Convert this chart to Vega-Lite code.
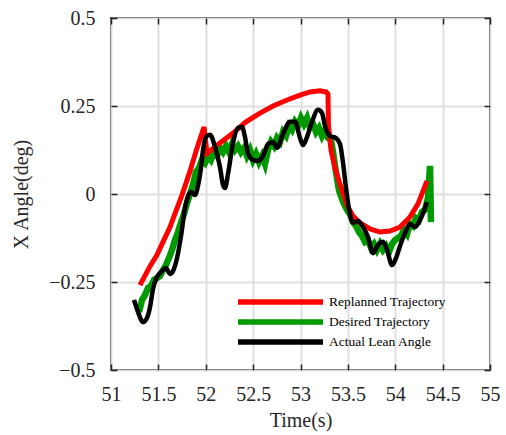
{
  "$schema": "https://vega.github.io/schema/vega-lite/v6.json",
  "width": 379,
  "height": 352,
  "autosize": {"type": "none"},
  "padding": {"left": 111, "top": 18, "right": 16, "bottom": 65},
  "config": {
    "font": "Liberation Serif",
    "view": {"stroke": "#262626", "strokeWidth": 2},
    "axis": {
      "labelFont": "Liberation Serif",
      "labelFontSize": 20,
      "labelColor": "#262626",
      "titleFont": "Liberation Serif",
      "titleFontSize": 20,
      "titleFontWeight": "normal",
      "titleColor": "#262626",
      "domain": false,
      "tickColor": "#262626",
      "tickWidth": 1.5,
      "tickSize": -6,
      "labelFlush": false,
      "labelOverlap": false
    }
  },
  "data": {"values": [
    {"series": "Desired Trajectory", "t": 51.296, "v": -0.335},
    {"series": "Desired Trajectory", "t": 51.327, "v": -0.301},
    {"series": "Desired Trajectory", "t": 51.359, "v": -0.287},
    {"series": "Desired Trajectory", "t": 51.391, "v": -0.267},
    {"series": "Desired Trajectory", "t": 51.422, "v": -0.261},
    {"series": "Desired Trajectory", "t": 51.454, "v": -0.244},
    {"series": "Desired Trajectory", "t": 51.485, "v": -0.239},
    {"series": "Desired Trajectory", "t": 51.517, "v": -0.233},
    {"series": "Desired Trajectory", "t": 51.549, "v": -0.216},
    {"series": "Desired Trajectory", "t": 51.580, "v": -0.202},
    {"series": "Desired Trajectory", "t": 51.612, "v": -0.182},
    {"series": "Desired Trajectory", "t": 51.644, "v": -0.159},
    {"series": "Desired Trajectory", "t": 51.675, "v": -0.131},
    {"series": "Desired Trajectory", "t": 51.707, "v": -0.108},
    {"series": "Desired Trajectory", "t": 51.739, "v": -0.080},
    {"series": "Desired Trajectory", "t": 51.770, "v": -0.057},
    {"series": "Desired Trajectory", "t": 51.802, "v": -0.026},
    {"series": "Desired Trajectory", "t": 51.834, "v": 0.000},
    {"series": "Desired Trajectory", "t": 51.865, "v": 0.026},
    {"series": "Desired Trajectory", "t": 51.897, "v": 0.063},
    {"series": "Desired Trajectory", "t": 51.929, "v": 0.074},
    {"series": "Desired Trajectory", "t": 51.960, "v": 0.097},
    {"series": "Desired Trajectory", "t": 51.992, "v": 0.088},
    {"series": "Desired Trajectory", "t": 52.024, "v": 0.108},
    {"series": "Desired Trajectory", "t": 52.055, "v": 0.097},
    {"series": "Desired Trajectory", "t": 52.087, "v": 0.119},
    {"series": "Desired Trajectory", "t": 52.119, "v": 0.108},
    {"series": "Desired Trajectory", "t": 52.150, "v": 0.131},
    {"series": "Desired Trajectory", "t": 52.182, "v": 0.119},
    {"series": "Desired Trajectory", "t": 52.214, "v": 0.136},
    {"series": "Desired Trajectory", "t": 52.245, "v": 0.119},
    {"series": "Desired Trajectory", "t": 52.277, "v": 0.142},
    {"series": "Desired Trajectory", "t": 52.309, "v": 0.125},
    {"series": "Desired Trajectory", "t": 52.340, "v": 0.136},
    {"series": "Desired Trajectory", "t": 52.372, "v": 0.119},
    {"series": "Desired Trajectory", "t": 52.404, "v": 0.131},
    {"series": "Desired Trajectory", "t": 52.435, "v": 0.108},
    {"series": "Desired Trajectory", "t": 52.467, "v": 0.125},
    {"series": "Desired Trajectory", "t": 52.499, "v": 0.097},
    {"series": "Desired Trajectory", "t": 52.530, "v": 0.114},
    {"series": "Desired Trajectory", "t": 52.562, "v": 0.091},
    {"series": "Desired Trajectory", "t": 52.594, "v": 0.108},
    {"series": "Desired Trajectory", "t": 52.625, "v": 0.085},
    {"series": "Desired Trajectory", "t": 52.657, "v": 0.125},
    {"series": "Desired Trajectory", "t": 52.689, "v": 0.148},
    {"series": "Desired Trajectory", "t": 52.720, "v": 0.136},
    {"series": "Desired Trajectory", "t": 52.752, "v": 0.159},
    {"series": "Desired Trajectory", "t": 52.784, "v": 0.148},
    {"series": "Desired Trajectory", "t": 52.815, "v": 0.176},
    {"series": "Desired Trajectory", "t": 52.847, "v": 0.165},
    {"series": "Desired Trajectory", "t": 52.879, "v": 0.193},
    {"series": "Desired Trajectory", "t": 52.910, "v": 0.182},
    {"series": "Desired Trajectory", "t": 52.942, "v": 0.205},
    {"series": "Desired Trajectory", "t": 52.974, "v": 0.193},
    {"series": "Desired Trajectory", "t": 53.005, "v": 0.216},
    {"series": "Desired Trajectory", "t": 53.037, "v": 0.199},
    {"series": "Desired Trajectory", "t": 53.069, "v": 0.216},
    {"series": "Desired Trajectory", "t": 53.100, "v": 0.188},
    {"series": "Desired Trajectory", "t": 53.132, "v": 0.199},
    {"series": "Desired Trajectory", "t": 53.164, "v": 0.176},
    {"series": "Desired Trajectory", "t": 53.195, "v": 0.188},
    {"series": "Desired Trajectory", "t": 53.227, "v": 0.165},
    {"series": "Desired Trajectory", "t": 53.259, "v": 0.182},
    {"series": "Desired Trajectory", "t": 53.290, "v": 0.159},
    {"series": "Desired Trajectory", "t": 53.322, "v": 0.153},
    {"series": "Desired Trajectory", "t": 53.343, "v": 0.119},
    {"series": "Desired Trajectory", "t": 53.364, "v": 0.080},
    {"series": "Desired Trajectory", "t": 53.385, "v": 0.045},
    {"series": "Desired Trajectory", "t": 53.406, "v": 0.011},
    {"series": "Desired Trajectory", "t": 53.427, "v": -0.006},
    {"series": "Desired Trajectory", "t": 53.459, "v": -0.028},
    {"series": "Desired Trajectory", "t": 53.491, "v": -0.045},
    {"series": "Desired Trajectory", "t": 53.522, "v": -0.057},
    {"series": "Desired Trajectory", "t": 53.554, "v": -0.080},
    {"series": "Desired Trajectory", "t": 53.586, "v": -0.091},
    {"series": "Desired Trajectory", "t": 53.617, "v": -0.108},
    {"series": "Desired Trajectory", "t": 53.649, "v": -0.119},
    {"series": "Desired Trajectory", "t": 53.681, "v": -0.136},
    {"series": "Desired Trajectory", "t": 53.712, "v": -0.131},
    {"series": "Desired Trajectory", "t": 53.744, "v": -0.153},
    {"series": "Desired Trajectory", "t": 53.776, "v": -0.142},
    {"series": "Desired Trajectory", "t": 53.807, "v": -0.159},
    {"series": "Desired Trajectory", "t": 53.839, "v": -0.142},
    {"series": "Desired Trajectory", "t": 53.871, "v": -0.159},
    {"series": "Desired Trajectory", "t": 53.902, "v": -0.148},
    {"series": "Desired Trajectory", "t": 53.934, "v": -0.165},
    {"series": "Desired Trajectory", "t": 53.966, "v": -0.142},
    {"series": "Desired Trajectory", "t": 53.997, "v": -0.131},
    {"series": "Desired Trajectory", "t": 54.029, "v": -0.125},
    {"series": "Desired Trajectory", "t": 54.061, "v": -0.119},
    {"series": "Desired Trajectory", "t": 54.092, "v": -0.102},
    {"series": "Desired Trajectory", "t": 54.124, "v": -0.114},
    {"series": "Desired Trajectory", "t": 54.156, "v": -0.085},
    {"series": "Desired Trajectory", "t": 54.187, "v": -0.091},
    {"series": "Desired Trajectory", "t": 54.219, "v": -0.068},
    {"series": "Desired Trajectory", "t": 54.251, "v": -0.074},
    {"series": "Desired Trajectory", "t": 54.282, "v": -0.051},
    {"series": "Desired Trajectory", "t": 54.314, "v": -0.045},
    {"series": "Desired Trajectory", "t": 54.346, "v": -0.011},
    {"series": "Desired Trajectory", "t": 54.367, "v": 0.080},
    {"series": "Desired Trajectory", "t": 54.377, "v": -0.080},
    {"series": "Replanned Trajectory", "t": 51.306, "v": -0.259},
    {"series": "Replanned Trajectory", "t": 51.412, "v": -0.205},
    {"series": "Replanned Trajectory", "t": 51.486, "v": -0.173},
    {"series": "Replanned Trajectory", "t": 51.549, "v": -0.136},
    {"series": "Replanned Trajectory", "t": 51.623, "v": -0.094},
    {"series": "Replanned Trajectory", "t": 51.686, "v": -0.048},
    {"series": "Replanned Trajectory", "t": 51.749, "v": -0.003},
    {"series": "Replanned Trajectory", "t": 51.834, "v": 0.065},
    {"series": "Replanned Trajectory", "t": 51.908, "v": 0.131},
    {"series": "Replanned Trajectory", "t": 51.982, "v": 0.190},
    {"series": "Replanned Trajectory", "t": 52.013, "v": 0.116},
    {"series": "Replanned Trajectory", "t": 52.150, "v": 0.145},
    {"series": "Replanned Trajectory", "t": 52.288, "v": 0.173},
    {"series": "Replanned Trajectory", "t": 52.425, "v": 0.205},
    {"series": "Replanned Trajectory", "t": 52.573, "v": 0.230},
    {"series": "Replanned Trajectory", "t": 52.710, "v": 0.250},
    {"series": "Replanned Trajectory", "t": 52.858, "v": 0.267},
    {"series": "Replanned Trajectory", "t": 52.995, "v": 0.281},
    {"series": "Replanned Trajectory", "t": 53.100, "v": 0.290},
    {"series": "Replanned Trajectory", "t": 53.206, "v": 0.293},
    {"series": "Replanned Trajectory", "t": 53.269, "v": 0.290},
    {"series": "Replanned Trajectory", "t": 53.290, "v": 0.284},
    {"series": "Replanned Trajectory", "t": 53.295, "v": 0.196},
    {"series": "Replanned Trajectory", "t": 53.322, "v": 0.125},
    {"series": "Replanned Trajectory", "t": 53.364, "v": 0.074},
    {"series": "Replanned Trajectory", "t": 53.417, "v": 0.028},
    {"series": "Replanned Trajectory", "t": 53.491, "v": -0.031},
    {"series": "Replanned Trajectory", "t": 53.554, "v": -0.063},
    {"series": "Replanned Trajectory", "t": 53.628, "v": -0.082},
    {"series": "Replanned Trajectory", "t": 53.734, "v": -0.099},
    {"series": "Replanned Trajectory", "t": 53.839, "v": -0.108},
    {"series": "Replanned Trajectory", "t": 53.945, "v": -0.105},
    {"series": "Replanned Trajectory", "t": 54.050, "v": -0.094},
    {"series": "Replanned Trajectory", "t": 54.156, "v": -0.065},
    {"series": "Replanned Trajectory", "t": 54.240, "v": -0.028},
    {"series": "Replanned Trajectory", "t": 54.335, "v": 0.037},
    {"series": "Actual Lean Angle", "t": 51.243, "v": -0.301},
    {"series": "Actual Lean Angle", "t": 51.285, "v": -0.335},
    {"series": "Actual Lean Angle", "t": 51.338, "v": -0.364},
    {"series": "Actual Lean Angle", "t": 51.380, "v": -0.352},
    {"series": "Actual Lean Angle", "t": 51.412, "v": -0.321},
    {"series": "Actual Lean Angle", "t": 51.443, "v": -0.270},
    {"series": "Actual Lean Angle", "t": 51.485, "v": -0.236},
    {"series": "Actual Lean Angle", "t": 51.538, "v": -0.219},
    {"series": "Actual Lean Angle", "t": 51.580, "v": -0.210},
    {"series": "Actual Lean Angle", "t": 51.623, "v": -0.227},
    {"series": "Actual Lean Angle", "t": 51.654, "v": -0.219},
    {"series": "Actual Lean Angle", "t": 51.697, "v": -0.182},
    {"series": "Actual Lean Angle", "t": 51.739, "v": -0.119},
    {"series": "Actual Lean Angle", "t": 51.781, "v": -0.040},
    {"series": "Actual Lean Angle", "t": 51.813, "v": -0.006},
    {"series": "Actual Lean Angle", "t": 51.844, "v": 0.006},
    {"series": "Actual Lean Angle", "t": 51.887, "v": -0.003},
    {"series": "Actual Lean Angle", "t": 51.918, "v": 0.023},
    {"series": "Actual Lean Angle", "t": 51.950, "v": 0.074},
    {"series": "Actual Lean Angle", "t": 51.971, "v": 0.125},
    {"series": "Actual Lean Angle", "t": 52.003, "v": 0.162},
    {"series": "Actual Lean Angle", "t": 52.045, "v": 0.168},
    {"series": "Actual Lean Angle", "t": 52.098, "v": 0.134},
    {"series": "Actual Lean Angle", "t": 52.150, "v": 0.077},
    {"series": "Actual Lean Angle", "t": 52.182, "v": 0.026},
    {"series": "Actual Lean Angle", "t": 52.203, "v": 0.017},
    {"series": "Actual Lean Angle", "t": 52.235, "v": 0.057},
    {"series": "Actual Lean Angle", "t": 52.288, "v": 0.145},
    {"series": "Actual Lean Angle", "t": 52.340, "v": 0.188},
    {"series": "Actual Lean Angle", "t": 52.383, "v": 0.190},
    {"series": "Actual Lean Angle", "t": 52.414, "v": 0.162},
    {"series": "Actual Lean Angle", "t": 52.446, "v": 0.116},
    {"series": "Actual Lean Angle", "t": 52.499, "v": 0.097},
    {"series": "Actual Lean Angle", "t": 52.551, "v": 0.094},
    {"series": "Actual Lean Angle", "t": 52.604, "v": 0.108},
    {"series": "Actual Lean Angle", "t": 52.657, "v": 0.142},
    {"series": "Actual Lean Angle", "t": 52.710, "v": 0.148},
    {"series": "Actual Lean Angle", "t": 52.752, "v": 0.131},
    {"series": "Actual Lean Angle", "t": 52.815, "v": 0.170},
    {"series": "Actual Lean Angle", "t": 52.889, "v": 0.205},
    {"series": "Actual Lean Angle", "t": 52.942, "v": 0.205},
    {"series": "Actual Lean Angle", "t": 52.995, "v": 0.159},
    {"series": "Actual Lean Angle", "t": 53.026, "v": 0.139},
    {"series": "Actual Lean Angle", "t": 53.069, "v": 0.162},
    {"series": "Actual Lean Angle", "t": 53.121, "v": 0.205},
    {"series": "Actual Lean Angle", "t": 53.185, "v": 0.239},
    {"series": "Actual Lean Angle", "t": 53.227, "v": 0.230},
    {"series": "Actual Lean Angle", "t": 53.259, "v": 0.193},
    {"series": "Actual Lean Angle", "t": 53.311, "v": 0.165},
    {"series": "Actual Lean Angle", "t": 53.375, "v": 0.159},
    {"series": "Actual Lean Angle", "t": 53.417, "v": 0.142},
    {"series": "Actual Lean Angle", "t": 53.449, "v": 0.088},
    {"series": "Actual Lean Angle", "t": 53.480, "v": 0.017},
    {"series": "Actual Lean Angle", "t": 53.522, "v": -0.057},
    {"series": "Actual Lean Angle", "t": 53.554, "v": -0.082},
    {"series": "Actual Lean Angle", "t": 53.607, "v": -0.077},
    {"series": "Actual Lean Angle", "t": 53.660, "v": -0.094},
    {"series": "Actual Lean Angle", "t": 53.712, "v": -0.122},
    {"series": "Actual Lean Angle", "t": 53.765, "v": -0.168},
    {"series": "Actual Lean Angle", "t": 53.818, "v": -0.145},
    {"series": "Actual Lean Angle", "t": 53.871, "v": -0.136},
    {"series": "Actual Lean Angle", "t": 53.913, "v": -0.159},
    {"series": "Actual Lean Angle", "t": 53.966, "v": -0.202},
    {"series": "Actual Lean Angle", "t": 54.008, "v": -0.182},
    {"series": "Actual Lean Angle", "t": 54.061, "v": -0.139},
    {"series": "Actual Lean Angle", "t": 54.103, "v": -0.111},
    {"series": "Actual Lean Angle", "t": 54.156, "v": -0.085},
    {"series": "Actual Lean Angle", "t": 54.208, "v": -0.094},
    {"series": "Actual Lean Angle", "t": 54.261, "v": -0.074},
    {"series": "Actual Lean Angle", "t": 54.303, "v": -0.048},
    {"series": "Actual Lean Angle", "t": 54.335, "v": -0.023}
  ]},
  "encoding": {
    "color": {
      "field": "series",
      "type": "nominal",
      "scale": {
        "domain": ["Replanned Trajectory", "Desired Trajectory", "Actual Lean Angle"],
        "range": ["#ff0000", "#009900", "#000000"]
      },
      "legend": {
        "orient": "none",
        "legendX": 124,
        "legendY": 275,
        "title": null,
        "symbolType": "stroke",
        "symbolSize": 7225,
        "symbolStrokeWidth": 5.5,
        "symbolOpacity": 1,
        "clipHeight": 18,
        "rowPadding": 2,
        "labelOffset": 3,
        "labelFont": "Liberation Serif",
        "labelFontSize": 13.5,
        "labelColor": "#000000",
        "padding": 0
      }
    }
  },
  "layer": [
    {
      "transform": [{"filter": "datum.series === 'Desired Trajectory'"}],
      "mark": {"type": "line", "strokeWidth": 6.5},
      "encoding": {
        "x": {
          "field": "t", "type": "quantitative",
          "scale": {"domain": [51, 55], "nice": false, "zero": false},
          "axis": {
            "orient": "bottom",
            "values": [51, 51.5, 52, 52.5, 53, 53.5, 54, 54.5, 55],
            "format": ".1~f",
            "title": "Time(s)",
            "grid": true, "gridColor": "#dfdfdf", "gridWidth": 2,
            "labelPadding": 20,
            "titlePadding": 6
          }
        },
        "y": {
          "field": "v", "type": "quantitative",
          "scale": {"domain": [-0.5, 0.5], "nice": false, "zero": false},
          "axis": {
            "orient": "left",
            "values": [-0.5, -0.25, 0, 0.25, 0.5],
            "format": ".2~f",
            "title": "X Angle(deg)",
            "grid": true, "gridColor": "#dfdfdf", "gridWidth": 2,
            "labelPadding": 22,
            "titlePadding": 17
          }
        }
      }
    },
    {
      "transform": [{"filter": "datum.series === 'Replanned Trajectory'"}],
      "mark": {"type": "line", "strokeWidth": 5},
      "encoding": {
        "x": {
          "field": "t", "type": "quantitative",
          "scale": {"domain": [51, 55], "nice": false, "zero": false},
          "axis": {
            "orient": "top",
            "values": [51, 51.5, 52, 52.5, 53, 53.5, 54, 54.5, 55],
            "labels": false, "title": null, "grid": false
          }
        },
        "y": {
          "field": "v", "type": "quantitative",
          "scale": {"domain": [-0.5, 0.5], "nice": false, "zero": false},
          "axis": {
            "orient": "right",
            "values": [-0.5, -0.25, 0, 0.25, 0.5],
            "labels": false, "title": null, "grid": false
          }
        }
      }
    },
    {
      "transform": [{"filter": "datum.series === 'Actual Lean Angle'"}],
      "mark": {"type": "line", "strokeWidth": 4.5, "interpolate": "monotone"},
      "encoding": {
        "x": {"field": "t", "type": "quantitative", "scale": {"domain": [51, 55], "nice": false, "zero": false}, "axis": null},
        "y": {"field": "v", "type": "quantitative", "scale": {"domain": [-0.5, 0.5], "nice": false, "zero": false}, "axis": null}
      }
    }
  ],
  "resolve": {"axis": {"x": "independent", "y": "independent"}}
}
